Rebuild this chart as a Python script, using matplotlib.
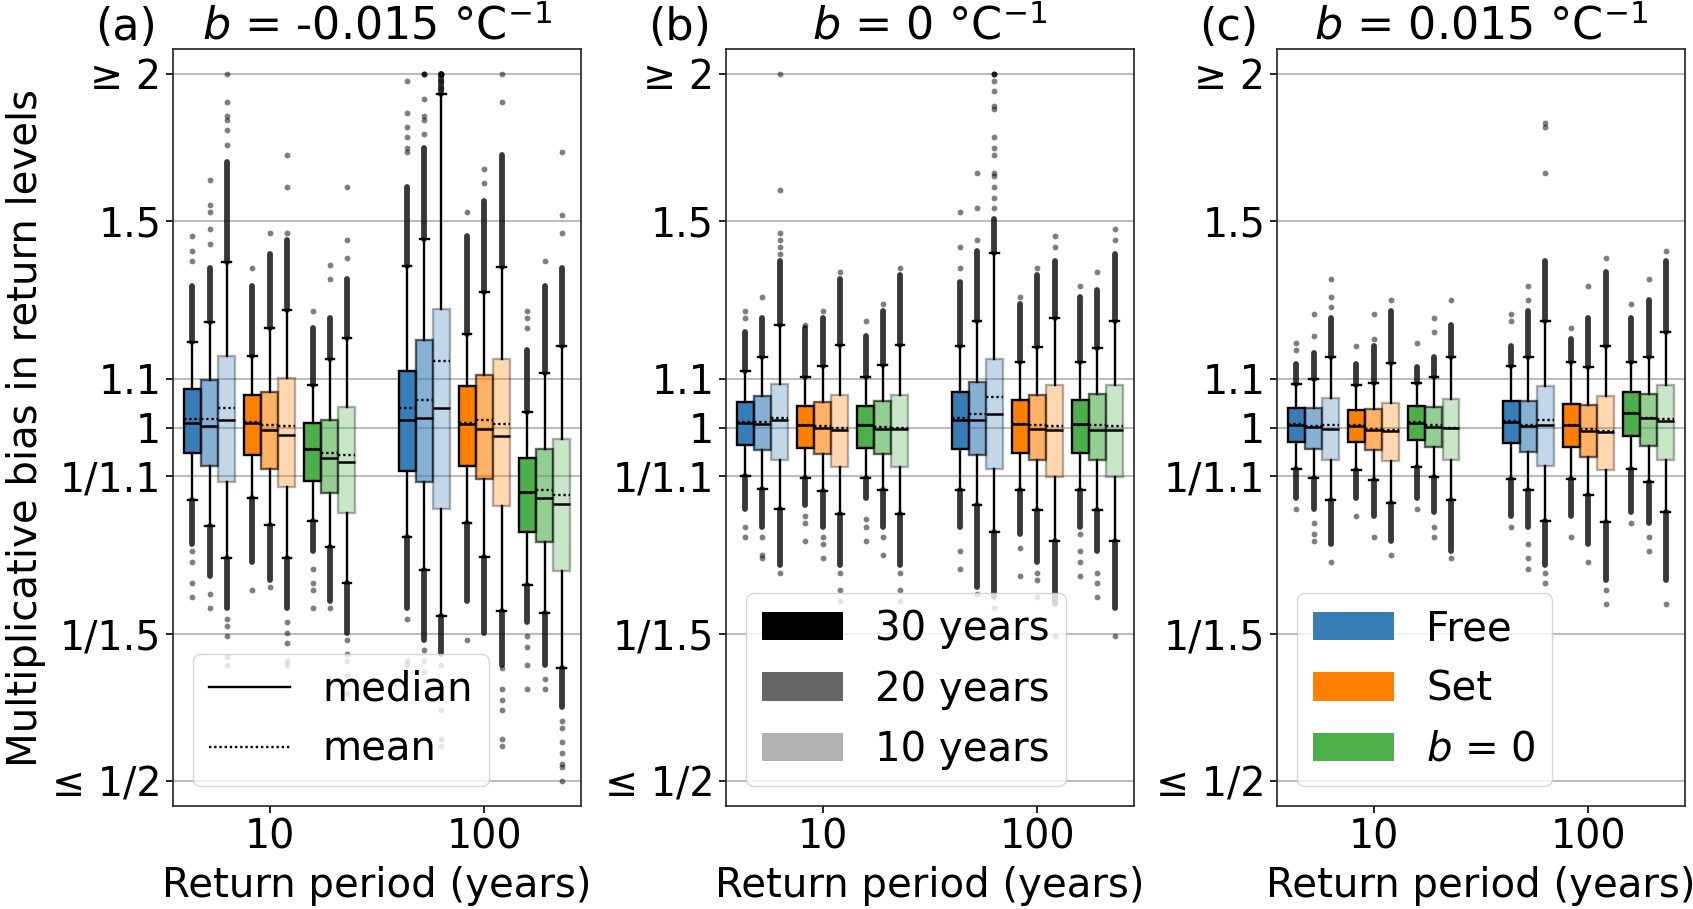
import numpy as np
import matplotlib; matplotlib.use('Agg')
import matplotlib.pyplot as plt
from matplotlib.colors import to_rgba
from matplotlib.lines import Line2D
from matplotlib.patches import Patch

# values are log2(multiplicative bias), clipped to [-1, 1]
# order of the 18 boxes: RP10 [Free 30/20/10, Set 30/20/10, b=0 30/20/10], then RP100 same
A_MED = [0.014, 0.003, 0.022, 0.012, -0.006, -0.020, -0.060, -0.086, -0.097,
         0.022, 0.028, 0.054, 0.010, -0.003, -0.025, -0.182, -0.198, -0.215]
A_MEAN = [0.025, 0.025, 0.056, 0.015, 0.006, 0.003, -0.061, -0.071, -0.077,
          0.054, 0.078, 0.189, 0.012, 0.020, 0.011, -0.184, -0.177, -0.190]
A_Q1 = [-0.071, -0.108, -0.155, -0.077, -0.116, -0.167, -0.150, -0.184, -0.242,
        -0.124, -0.155, -0.229, -0.110, -0.146, -0.222, -0.296, -0.325, -0.407]
A_Q3 = [0.110, 0.135, 0.202, 0.092, 0.101, 0.140, 0.013, 0.021, 0.058,
        0.161, 0.246, 0.334, 0.118, 0.149, 0.194, -0.086, -0.061, -0.032]
A_HI = [0.243, 0.299, 0.469, 0.202, 0.281, 0.332, 0.121, 0.194, 0.253,
        0.457, 0.534, 0.944, 0.265, 0.383, 0.454, 0.044, 0.154, 0.231]
A_LO = [-0.204, -0.278, -0.368, -0.198, -0.275, -0.370, -0.265, -0.339, -0.439,
        -0.309, -0.402, -0.532, -0.271, -0.365, -0.518, -0.444, -0.524, -0.679]
A_UP_DENSE = [0.40, 0.45, 0.75, 0.40, 0.49, 0.53, 0.28, 0.31, 0.42,
              0.68, 0.79, 1.0, 0.54, 0.64, 0.77, 0.22, 0.40, 0.45]
A_UP_SPARSE = [[0.47, 0.50, 0.54], [0.52, 0.56, 0.61, 0.63, 0.70], [0.80, 0.84, 0.87, 0.88, 0.92, 1.0],
               [0.45], [0.55], [0.55, 0.68, 0.77], [0.33], [0.42, 0.46], [0.48, 0.53, 0.68],
               [0.78, 0.79, 0.82, 0.85, 0.89, 0.98], [0.83, 0.87, 0.88, 0.93, 1.0, 1.0, 1.0],
               [1.0, 1.0, 1.0, 1.0, 0.98, 0.96], [0.61], [0.69, 0.73], [0.92, 1.0],
               [0.28, 0.31, 0.33], [0.47], [0.55, 0.60, 0.78]]
A_LO_DENSE = [-0.33, -0.42, -0.51, -0.38, -0.43, -0.51, -0.35, -0.49, -0.58,
              -0.51, -0.60, -0.64, -0.49, -0.58, -0.67, -0.55, -0.67, -0.79]
A_LO_SPARSE = [[-0.35, -0.38, -0.44, -0.48], [-0.47, -0.51], [-0.54, -0.56, -0.59, -0.65, -0.67],
               [-0.46], [-0.45], [-0.55, -0.58, -0.61, -0.66, -0.67],
               [-0.40, -0.44, -0.46, -0.51], [-0.51], [-0.60, -0.64, -0.66, -0.70, -0.75],
               [-0.54, -0.66, -0.67], [-0.63, -0.66, -0.69], [-0.67, -0.73, -0.80, -0.88, -0.90],
               [-0.60], [], [-0.68, -0.74, -0.77, -0.80, -0.88, -0.90],
               [-0.59, -0.62, -0.67, -0.74], [-0.71, -0.74], [-0.83, -0.85, -0.89, -0.92, -0.95, -0.96, -1.0]]

B_MED = [0.012, 0.011, 0.020, 0.006, -0.002, -0.007, 0.006, -0.003, -0.003,
         0.022, 0.020, 0.037, 0.010, -0.004, -0.008, 0.009, -0.006, -0.008]
B_MEAN = [0.015, 0.016, 0.028, 0.006, 0.003, -0.002, 0.006, 0.001, -0.002,
          0.026, 0.037, 0.085, 0.009, 0.006, 0.003, 0.008, 0.006, 0.003]
B_Q1 = [-0.049, -0.065, -0.093, -0.057, -0.074, -0.113, -0.057, -0.076, -0.113,
        -0.060, -0.079, -0.117, -0.073, -0.093, -0.141, -0.073, -0.093, -0.141]
B_Q3 = [0.071, 0.090, 0.123, 0.062, 0.072, 0.092, 0.062, 0.075, 0.092,
        0.099, 0.129, 0.195, 0.079, 0.092, 0.120, 0.079, 0.095, 0.120]
B_HI = [0.161, 0.199, 0.290, 0.144, 0.174, 0.233, 0.144, 0.177, 0.233,
        0.231, 0.301, 0.494, 0.186, 0.227, 0.309, 0.186, 0.224, 0.300]
B_LO = [-0.136, -0.174, -0.231, -0.143, -0.180, -0.244, -0.143, -0.178, -0.244,
        -0.178, -0.218, -0.295, -0.176, -0.234, -0.321, -0.176, -0.232, -0.321]
B_UP_DENSE = [0.27, 0.31, 0.47, 0.28, 0.31, 0.42, 0.26, 0.33, 0.43,
              0.41, 0.50, 0.59, 0.35, 0.43, 0.47, 0.37, 0.39, 0.49]
B_UP_SPARSE = [[0.31, 0.33], [0.37], [0.49, 0.51, 0.53, 0.55, 0.67, 1.0], [0.29], [0.33], [0.44],
               [0.30], [0.35], [0.45],
               [0.45, 0.51, 0.61], [0.53, 0.62, 0.72],
               [0.62, 0.65, 0.68, 0.71, 0.72, 0.77, 0.79, 0.82, 0.90, 0.91, 0.95, 0.98, 1.0, 1.0, 1.0],
               [0.37], [0.45], [0.51, 0.54], [0.40], [0.44], [0.53, 0.56]]
B_LO_DENSE = [-0.23, -0.28, -0.39, -0.22, -0.28, -0.39, -0.20, -0.28, -0.39,
              -0.28, -0.45, -0.48, -0.30, -0.38, -0.50, -0.28, -0.35, -0.51]
B_LO_SPARSE = [[-0.28, -0.31], [-0.31, -0.36, -0.37], [-0.41], [-0.25, -0.27, -0.32],
               [-0.31, -0.33, -0.37], [-0.41, -0.46, -0.49], [-0.26, -0.28, -0.32],
               [-0.31, -0.36], [-0.41, -0.46, -0.49],
               [-0.35, -0.40], [-0.47], [-0.51], [-0.34, -0.42], [-0.41, -0.43, -0.48],
               [-0.59], [-0.30, -0.35, -0.38, -0.42], [-0.41, -0.44, -0.48], [-0.59]]

C_MED = [0.008, 0.001, -0.003, 0.003, -0.006, -0.009, 0.012, 0.002, 0.000,
         0.016, 0.003, 0.006, 0.007, -0.011, -0.014, 0.040, 0.026, 0.019]
C_MEAN = [0.010, 0.003, 0.007, 0.006, -0.004, -0.008, 0.015, 0.006, 0.000,
          0.018, 0.008, 0.022, 0.008, -0.005, -0.009, 0.042, 0.028, 0.024]
C_Q1 = [-0.040, -0.060, -0.091, -0.042, -0.065, -0.096, -0.035, -0.056, -0.091,
        -0.045, -0.068, -0.108, -0.055, -0.082, -0.121, -0.024, -0.052, -0.091]
C_Q3 = [0.054, 0.056, 0.084, 0.050, 0.053, 0.069, 0.060, 0.058, 0.081,
        0.076, 0.074, 0.116, 0.067, 0.063, 0.088, 0.099, 0.094, 0.120]
C_HI = [0.123, 0.138, 0.199, 0.121, 0.125, 0.182, 0.127, 0.142, 0.199,
        0.174, 0.199, 0.301, 0.186, 0.170, 0.229, 0.186, 0.200, 0.271]
C_LO = [-0.118, -0.143, -0.206, -0.120, -0.148, -0.214, -0.113, -0.140, -0.206,
        -0.146, -0.178, -0.265, -0.146, -0.190, -0.268, -0.117, -0.154, -0.239]
C_UP_DENSE = [0.18, 0.21, 0.31, 0.18, 0.23, 0.33, 0.17, 0.20, 0.29,
              0.23, 0.33, 0.47, 0.25, 0.31, 0.44, 0.31, 0.36, 0.47]
C_UP_SPARSE = [[0.22, 0.24], [0.26, 0.32], [0.34, 0.37, 0.42], [0.23], [0.25, 0.32], [0.36],
               [0.24], [0.27, 0.31], [0.36],
               [0.30, 0.32], [0.36, 0.40], [0.72, 0.85, 0.86], [0.28], [0.40], [0.48],
               [0.35], [0.42], [0.50]]
C_LO_DENSE = [-0.20, -0.23, -0.33, -0.20, -0.25, -0.32, -0.20, -0.24, -0.35,
              -0.25, -0.28, -0.39, -0.25, -0.33, -0.43, -0.24, -0.27, -0.43]
C_LO_SPARSE = [[-0.23], [-0.27, -0.30, -0.32], [-0.38], [-0.25], [-0.31], [-0.36], [-0.23],
               [-0.28, -0.31], [-0.37],
               [-0.28], [-0.33, -0.37, -0.40], [-0.41, -0.44], [-0.31], [-0.38], [-0.46, -0.50],
               [-0.27], [-0.31, -0.35], [-0.50]]

PANELS = [
    ('(a)', r'$b$ = -0.015 °C$^{-1}$', A_MED, A_MEAN, A_Q1, A_Q3, A_HI, A_LO,
     A_UP_DENSE, A_UP_SPARSE, A_LO_DENSE, A_LO_SPARSE),
    ('(b)', r'$b$ = 0 °C$^{-1}$', B_MED, B_MEAN, B_Q1, B_Q3, B_HI, B_LO,
     B_UP_DENSE, B_UP_SPARSE, B_LO_DENSE, B_LO_SPARSE),
    ('(c)', r'$b$ = 0.015 °C$^{-1}$', C_MED, C_MEAN, C_Q1, C_Q3, C_HI, C_LO,
     C_UP_DENSE, C_UP_SPARSE, C_LO_DENSE, C_LO_SPARSE),
]

return_periods = ['10', '100']
methods = ['Free', 'Set', r'$b$ = 0']
method_colors = ['#377eb8', '#ff7f00', '#4daf4a']
lengths = ['30 years', '20 years', '10 years']
length_alpha = [1.0, 0.6, 0.3]

ytick_vals = [-1, np.log2(1 / 1.5), np.log2(1 / 1.1), 0, np.log2(1.1), np.log2(1.5), 1]
ytick_lbl = ['≤ 1/2', '1/1.5', '1/1.1', '1', '1.1', '1.5', '≥ 2']

plt.rcParams.update({'font.family': 'DejaVu Sans', 'font.size': 29})

fig = plt.figure(figsize=(16.93, 9.09), dpi=100)
lefts = [0.1022, 0.4288, 0.7543]
W = 0.0789
DX = 0.28

for p, (tag, title, med, mean, q1, q3, hi, lo, upd, ups, lod, los) in enumerate(PANELS):
    ax = fig.add_axes([lefts[p], 0.1133, 0.2410, 0.8328])
    ax.set_axisbelow(True)
    ax.yaxis.grid(True, color='#bdbdbd', lw=1.5, zorder=0)
    for g in range(2):
        for m in range(3):
            for k in range(3):
                i = g * 9 + m * 3 + k
                x = 1 + g + (m - 1) * DX + (k - 1) * 0.08
                a = length_alpha[k]
                # fliers: dense column + sparse points
                ax.plot([x, x], [hi[i], upd[i]], color='k', alpha=0.78, lw=4.2,
                        solid_capstyle='round', zorder=1)
                ax.plot([x, x], [lo[i], lod[i]], color='k', alpha=0.78, lw=4.2,
                        solid_capstyle='round', zorder=1)
                pts = ups[i] + los[i]
                if pts:
                    ax.plot([x] * len(pts), pts, 'o', color='k', alpha=0.5, ms=4.2,
                            mew=0, zorder=1)
                st = dict(med=med[i], mean=mean[i], q1=q1[i], q3=q3[i],
                          whislo=lo[i], whishi=hi[i], fliers=[])
                ax.bxp([st], positions=[x], widths=W, capwidths=W * 0.5,
                       patch_artist=True, showmeans=True, meanline=True, showfliers=False,
                       boxprops=dict(facecolor=to_rgba(method_colors[m], a),
                                     edgecolor=to_rgba('k', a), lw=1.7),
                       whiskerprops=dict(color='k', lw=1.7),
                       capprops=dict(color='k', lw=1.7),
                       medianprops=dict(color='k', lw=1.8),
                       meanprops=dict(color='k', lw=1.7, ls=(0, (1, 1.2))),
                       manage_ticks=False, zorder=2)

    ax.set_xlim(0.55, 2.45)
    ax.set_ylim(-1.07, 1.07)
    ax.set_xticks([1, 2])
    ax.set_xticklabels(return_periods)
    ax.set_yticks(ytick_vals)
    ax.set_yticklabels(ytick_lbl)
    ax.tick_params(labelsize=28.5, length=5, width=1.2)
    for s in ax.spines.values():
        s.set_linewidth(1.2)
        s.set_color('#222222')
    ax.set_xlabel('Return period (years)', fontsize=29, labelpad=6)
    ax.set_title(title, fontsize=32, pad=6)
    ax.text(-0.19, 1.0, tag, transform=ax.transAxes, fontsize=32, va='baseline',
            ha='left')
    if p == 0:
        ax.set_ylabel('Multiplicative bias in return levels', fontsize=29)
        handles = [Line2D([0], [0], color='k', lw=1.7),
                   Line2D([0], [0], color='k', lw=1.7, ls=(0, (1, 1.2)))]
        ax.legend(handles, ['median', 'mean'], loc='lower left', fontsize=29)
    elif p == 1:
        handles = [Patch(facecolor=to_rgba('k', a), edgecolor='none') for a in length_alpha]
        ax.legend(handles, lengths, loc='lower left', fontsize=29)
    else:
        handles = [Patch(facecolor=c, edgecolor='none') for c in method_colors]
        ax.legend(handles, methods, loc='lower left', fontsize=29)
    # place tag at same height as title
    fig.canvas.draw()
    ty = ax.title.get_position()[1]
    ax.texts[-1].set_transform(ax.title.get_transform())
    ax.texts[-1].set_position((-0.19, ty))

fig.savefig('out.png', dpi=100, facecolor='white')
